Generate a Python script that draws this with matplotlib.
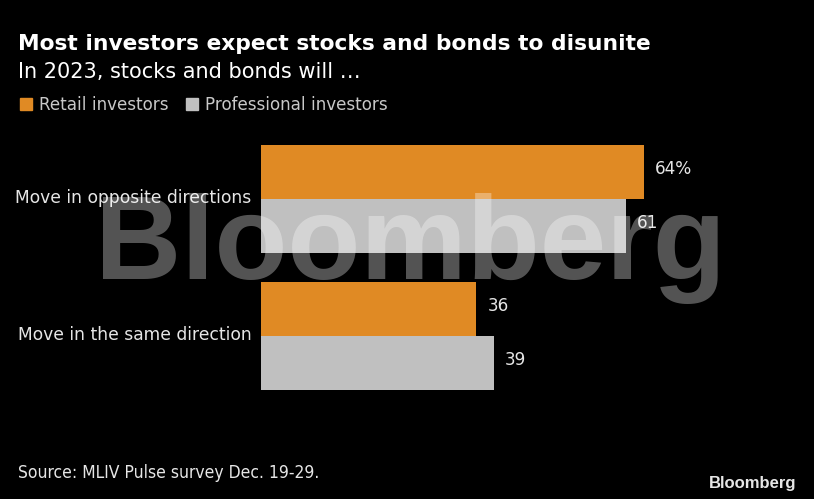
import matplotlib
matplotlib.use("Agg")
import matplotlib.pyplot as plt
from matplotlib.patches import Rectangle

categories = ["Move in opposite directions", "Move in the same direction"]
series_names = ["Retail investors", "Professional investors"]
retail = [64, 36]
professional = [61, 39]
value_labels_retail = ["64%", "36"]
value_labels_prof = ["61", "39"]

ORANGE = "#E08A24"
GREY = "#C0C0C0"
TEXT = "#E6E6E6"
BG = "#000000"

W, H = 814, 499
fig = plt.figure(figsize=(W / 100, H / 100), dpi=100, facecolor=BG)

def fx(px):
    return px / W

def fy(py):
    return 1 - py / H

# axes: x from 261 px, 5.98 px per unit; y from 145 to 390 px
x0 = 261
ppu = 5.98
xmax = 90
ax = fig.add_axes([fx(x0), fy(390), xmax * ppu / W, (390 - 145) / H])
ax.set_facecolor(BG)
h = 54 / 137
ys = list(range(len(categories)))
ax.barh([y - h / 2 for y in ys], retail, height=h, color=ORANGE, zorder=2)
ax.barh([y + h / 2 for y in ys], professional, height=h, color=GREY, zorder=2)
ax.set_xlim(0, xmax)
ax.set_ylim(1 + h, -h)
for s in ax.spines.values():
    s.set_visible(False)
ax.set_xticks([])
ax.set_yticks([y - 0.02 for y in ys])
ax.set_yticklabels(categories, color=TEXT, fontsize=12.3)
ax.tick_params(axis="y", length=0, pad=7)

for y, v, lab in zip(ys, retail, value_labels_retail):
    ax.annotate(lab, (v, y - h / 2), xytext=(11, 3), textcoords="offset pixels",
                va="center", ha="left", color=TEXT, fontsize=12.2)
for y, v, lab in zip(ys, professional, value_labels_prof):
    ax.annotate(lab, (v, y + h / 2), xytext=(11, 3), textcoords="offset pixels",
                va="center", ha="left", color=TEXT, fontsize=12.2)

# titles
fig.text(fx(18), fy(50), "Most investors expect stocks and bonds to disunite",
         color="white", fontsize=15.65, fontweight="bold", va="baseline", ha="left")
fig.text(fx(18), fy(78), "In 2023, stocks and bonds will \u2026",
         color="white", fontsize=15, va="baseline", ha="left")

# legend
leg_x = [20, 186]
for lx, name, col in zip(leg_x, series_names, [ORANGE, GREY]):
    fig.patches.append(Rectangle((fx(lx), fy(110)), 12 / W, 12 / H, transform=fig.transFigure,
                                 color=col, figure=fig))
    fig.text(fx(lx + 19), fy(110), name, color="#C8C8C8", fontsize=12.1,
             va="baseline", ha="left")

# watermark
fig.text(fx(410), fy(279), "Bloomberg", family="Liberation Sans", fontweight="bold",
         fontsize=86, color="white", alpha=0.33, ha="center", va="baseline", zorder=10)

# footer
fig.text(fx(18), fy(478), "Source: MLIV Pulse survey Dec. 19-29.", color=TEXT,
         fontsize=12.5, fontstretch="condensed", va="baseline", ha="left")
fig.text(fx(796), fy(488), "Bloomberg", family="Liberation Sans", fontweight="bold",
         color="#E6E6E6", fontsize=12, va="baseline", ha="right")

fig.savefig("out.png", dpi=100, facecolor=BG)
